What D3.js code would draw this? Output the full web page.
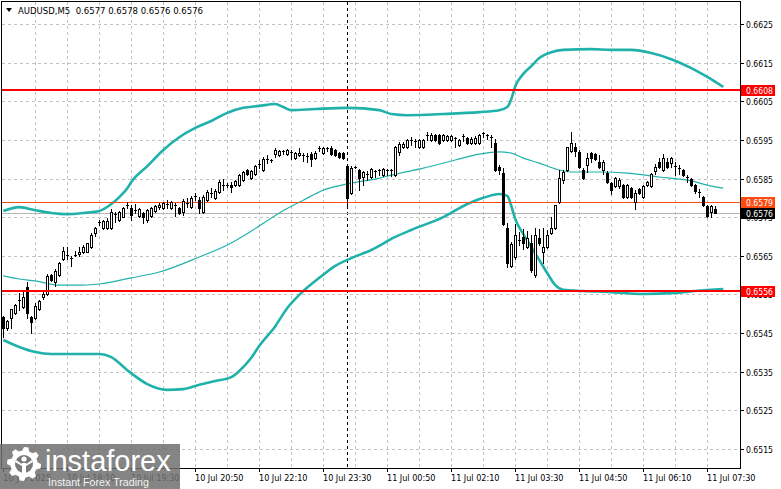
<!DOCTYPE html>
<html><head><meta charset="utf-8">
<script src="https://cdn.jsdelivr.net/npm/d3@7"></script>
<style>
html,body{margin:0;padding:0;background:#fff;overflow:hidden}
svg{display:block}
text{font-family:"DejaVu Sans",Verdana,sans-serif}
</style></head><body>
<svg id="chart" width="781" height="489"></svg>
<script>
// ---------- data ----------
const symbolTitle = "AUDUSD,M5";
const lastQuote = ["0.6577", "0.6578", "0.6576", "0.6576"];
const timeLabels = ["10 Jul 2025","10 Jul 18:10","10 Jul 19:30","10 Jul 20:50","10 Jul 22:10","10 Jul 23:30",
                    "11 Jul 00:50","11 Jul 02:10","11 Jul 03:30","11 Jul 04:50","11 Jul 06:10","11 Jul 07:30"];
const timeLabelBars = [0,16,32,48,64,80,96,112,128,144,160,176];
const gridBars = [8,16,24,32,40,48,56,64,72,80,88,96,104,112,120,128,136,144,152,160,168,176];
const priceTicks = [0.6515,0.6525,0.6535,0.6545,0.6555,0.6565,0.6575,0.6585,0.6595,0.6605,0.6615,0.6625];
const separatorBar = 86;           // 11 Jul 00:00
const redLevels = [0.6608, 0.6556];
const orangeLevel = 0.6579;
const bidPrice = 0.6576;

const opens = [
0.65492,0.65463,0.65489,0.65502,0.65533,0.65517,0.65569,0.65492,0.65489,0.65512,
0.65543,0.65551,0.65600,0.65582,0.65600,0.65642,0.65652,0.65644,0.65652,0.65655,
0.65660,0.65660,0.65673,0.65709,0.65735,0.65722,0.65722,0.65722,0.65756,0.65743,
0.65750,0.65779,0.65774,0.65766,0.65753,0.65761,0.65743,0.65753,0.65766,0.65776,
0.65774,0.65781,0.65774,0.65781,0.65774,0.65763,0.65784,0.65776,0.65802,0.65794,
0.65763,0.65794,0.65812,0.65800,0.65815,0.65831,0.65831,0.65833,0.65833,0.65833,
0.65846,0.65872,0.65851,0.65862,0.65885,0.65872,0.65898,0.65898,0.65913,0.65911,
0.65919,0.65913,0.65919,0.65903,0.65911,0.65911,0.65908,0.65913,0.65903,0.65926,
0.65916,0.65926,0.65929,0.65924,0.65916,0.65916,0.65882,0.65812,0.65880,0.65872,
0.65854,0.65862,0.65854,0.65867,0.65872,0.65859,0.65872,0.65869,0.65859,0.65919,
0.65932,0.65932,0.65947,0.65947,0.65932,0.65932,0.65960,0.65950,0.65963,0.65963,
0.65950,0.65950,0.65950,0.65955,0.65937,0.65957,0.65955,0.65942,0.65942,0.65942,
0.65968,0.65963,0.65957,0.65942,0.65880,0.65864,0.65722,0.65624,0.65647,0.65691,
0.65699,0.65673,0.65683,0.65600,0.65696,0.65660,0.65673,0.65709,0.65722,0.65789,
0.65846,0.65872,0.65921,0.65932,0.65919,0.65872,0.65885,0.65916,0.65913,0.65893,
0.65872,0.65864,0.65838,0.65831,0.65831,0.65833,0.65802,0.65825,0.65789,0.65823,
0.65802,0.65833,0.65831,0.65869,0.65893,0.65872,0.65893,0.65890,0.65882,0.65877,
0.65872,0.65854,0.65849,0.65833,0.65815,0.65802,0.65779,0.65763,0.65770];
const highs = [
0.65494,0.65484,0.65512,0.65525,0.65554,0.65559,0.65582,0.65494,0.65528,0.65536,
0.65559,0.65603,0.65603,0.65616,0.65634,0.65673,0.65673,0.65649,0.65662,0.65673,
0.65678,0.65683,0.65709,0.65724,0.65743,0.65743,0.65748,0.65771,0.65763,0.65766,
0.65776,0.65789,0.65781,0.65784,0.65774,0.65763,0.65771,0.65776,0.65781,0.65787,
0.65789,0.65794,0.65792,0.65787,0.65776,0.65797,0.65800,0.65805,0.65812,0.65802,
0.65807,0.65820,0.65825,0.65823,0.65846,0.65849,0.65838,0.65841,0.65846,0.65862,
0.65869,0.65875,0.65872,0.65885,0.65898,0.65906,0.65911,0.65900,0.65929,0.65924,
0.65924,0.65926,0.65924,0.65919,0.65929,0.65916,0.65916,0.65919,0.65921,0.65934,
0.65932,0.65932,0.65934,0.65926,0.65919,0.65919,0.65888,0.65882,0.65882,0.65875,
0.65869,0.65869,0.65877,0.65872,0.65875,0.65877,0.65875,0.65875,0.65934,0.65945,
0.65945,0.65952,0.65957,0.65952,0.65952,0.65952,0.65970,0.65968,0.65965,0.65965,
0.65965,0.65963,0.65963,0.65957,0.65952,0.65965,0.65957,0.65957,0.65960,0.65965,
0.65970,0.65965,0.65963,0.65952,0.65885,0.65877,0.65735,0.65686,0.65732,0.65712,
0.65719,0.65714,0.65704,0.65722,0.65719,0.65722,0.65717,0.65750,0.65781,0.65872,
0.65872,0.65932,0.65970,0.65942,0.65924,0.65877,0.65916,0.65919,0.65916,0.65911,
0.65898,0.65869,0.65841,0.65854,0.65851,0.65836,0.65836,0.65828,0.65820,0.65825,
0.65833,0.65844,0.65864,0.65888,0.65903,0.65913,0.65903,0.65906,0.65893,0.65885,
0.65875,0.65859,0.65851,0.65836,0.65823,0.65805,0.65781,0.65781,0.65780];
const lows = [
0.65440,0.65458,0.65463,0.65499,0.65510,0.65515,0.65489,0.65450,0.65486,0.65510,
0.65538,0.65549,0.65585,0.65572,0.65598,0.65639,0.65642,0.65624,0.65649,0.65649,
0.65657,0.65660,0.65670,0.65701,0.65730,0.65719,0.65719,0.65719,0.65737,0.65740,
0.65750,0.65774,0.65743,0.65761,0.65750,0.65735,0.65737,0.65750,0.65763,0.65771,
0.65771,0.65774,0.65771,0.65753,0.65758,0.65756,0.65776,0.65774,0.65794,0.65761,
0.65761,0.65792,0.65802,0.65797,0.65812,0.65820,0.65828,0.65815,0.65831,0.65831,
0.65844,0.65859,0.65849,0.65859,0.65877,0.65869,0.65890,0.65893,0.65906,0.65908,
0.65913,0.65911,0.65900,0.65900,0.65908,0.65895,0.65893,0.65882,0.65900,0.65921,
0.65913,0.65921,0.65911,0.65908,0.65903,0.65900,0.65774,0.65810,0.65877,0.65820,
0.65833,0.65846,0.65851,0.65854,0.65859,0.65856,0.65859,0.65856,0.65856,0.65911,
0.65929,0.65929,0.65937,0.65932,0.65929,0.65929,0.65950,0.65947,0.65947,0.65939,
0.65947,0.65947,0.65947,0.65932,0.65934,0.65947,0.65939,0.65939,0.65939,0.65939,
0.65957,0.65952,0.65932,0.65869,0.65862,0.65730,0.65621,0.65621,0.65642,0.65678,
0.65668,0.65670,0.65608,0.65595,0.65678,0.65631,0.65670,0.65706,0.65719,0.65787,
0.65838,0.65869,0.65919,0.65908,0.65877,0.65849,0.65867,0.65893,0.65898,0.65877,
0.65862,0.65838,0.65810,0.65828,0.65825,0.65800,0.65800,0.65800,0.65771,0.65810,
0.65800,0.65831,0.65828,0.65862,0.65877,0.65869,0.65877,0.65880,0.65859,0.65862,
0.65856,0.65841,0.65831,0.65812,0.65802,0.65779,0.65750,0.65750,0.65760];
const closes = [
0.65463,0.65481,0.65512,0.65523,0.65536,0.65543,0.65502,0.65479,0.65520,0.65533,
0.65551,0.65598,0.65587,0.65611,0.65631,0.65662,0.65649,0.65642,0.65651,0.65660,
0.65673,0.65683,0.65704,0.65722,0.65737,0.65740,0.65740,0.65763,0.65758,0.65763,
0.65774,0.65781,0.65756,0.65768,0.65771,0.65750,0.65768,0.65774,0.65779,0.65781,
0.65787,0.65784,0.65789,0.65779,0.65761,0.65792,0.65787,0.65800,0.65805,0.65774,
0.65802,0.65815,0.65810,0.65818,0.65841,0.65833,0.65833,0.65828,0.65844,0.65859,
0.65867,0.65862,0.65869,0.65882,0.65888,0.65900,0.65900,0.65897,0.65924,0.65921,
0.65921,0.65924,0.65916,0.65916,0.65916,0.65908,0.65906,0.65900,0.65916,0.65929,
0.65929,0.65929,0.65913,0.65911,0.65906,0.65903,0.65800,0.65877,0.65879,0.65851,
0.65867,0.65859,0.65875,0.65869,0.65869,0.65875,0.65871,0.65872,0.65932,0.65939,
0.65939,0.65950,0.65950,0.65946,0.65950,0.65950,0.65963,0.65963,0.65950,0.65942,
0.65963,0.65960,0.65960,0.65952,0.65950,0.65960,0.65942,0.65952,0.65955,0.65963,
0.65967,0.65962,0.65956,0.65872,0.65872,0.65732,0.65631,0.65681,0.65704,0.65688,
0.65683,0.65696,0.65613,0.65704,0.65683,0.65673,0.65704,0.65722,0.65781,0.65851,
0.65867,0.65932,0.65942,0.65921,0.65880,0.65851,0.65903,0.65903,0.65900,0.65880,
0.65893,0.65841,0.65820,0.65851,0.65846,0.65802,0.65833,0.65802,0.65812,0.65812,
0.65831,0.65841,0.65862,0.65880,0.65880,0.65903,0.65880,0.65903,0.65881,0.65875,
0.65859,0.65851,0.65833,0.65818,0.65812,0.65781,0.65753,0.65779,0.65760];

// indicator lines: [bar index, price]
const upperBand = [[0,0.65766],[4,0.65776],[8,0.65768],[12,0.65761],[16,0.65758],[20,0.65761],[24,0.65766],
 [27,0.65784],[29,0.65802],[31,0.65825],[32,0.65841],[36,0.65882],[40,0.65924],[44,0.65957],[48,0.65981],
 [52,0.65999],[56,0.66020],[60,0.66033],[64,0.66038],[68,0.66043],[70,0.66035],[72,0.66027],[78,0.66030],
 [86,0.66033],[94,0.66027],[97,0.66017],[101,0.66014],[110,0.66017],[119,0.66022],[124,0.66027],[126,0.66035],
 [127,0.66056],[128,0.66089],[130,0.66121],[132,0.66141],[134,0.66162],[137,0.66177],[140,0.66183],[147,0.66185],
 [152,0.66183],[157,0.66183],[162,0.66175],[167,0.66159],[172,0.66136],[176,0.66113],[180,0.66087]];
const middleLine = [[0,0.65598],[4,0.65590],[8,0.65585],[14,0.65574],[20,0.65574],[24,0.65577],[32,0.65593],
 [39,0.65608],[49,0.65647],[56,0.65678],[62,0.65714],[69,0.65761],[75,0.65794],[80,0.65820],[86,0.65836],
 [94,0.65851],[97,0.65859],[105,0.65877],[113,0.65898],[119,0.65913],[124,0.65919],[127,0.65916],[130,0.65903],
 [134,0.65890],[138,0.65875],[142,0.65867],[149,0.65867],[156,0.65864],[164,0.65854],[172,0.65844],[176,0.65833],[180,0.65825]];
const lowerBand = [[0,0.65432],[4,0.65414],[8,0.65401],[12,0.65396],[24,0.65396],[27,0.65388],[31,0.65354],
 [36,0.65318],[41,0.65303],[45,0.65305],[49,0.65316],[53,0.65326],[57,0.65336],[59,0.65352],[62,0.65386],
 [64,0.65417],[68,0.65468],[71,0.65515],[75,0.65559],[79,0.65593],[83,0.65624],[87,0.65644],[92,0.65665],
 [98,0.65699],[102,0.65717],[110,0.65750],[116,0.65784],[120,0.65800],[124,0.65810],[126,0.65805],[127,0.65779],
 [128,0.65745],[130,0.65706],[132,0.65673],[134,0.65639],[136,0.65605],[138,0.65574],[140,0.65562],[145,0.65559],
 [152,0.65556],[160,0.65551],[168,0.65554],[173,0.65559],[180,0.65564]];

// ---------- drawing ----------
const plotL = 2, plotR = 740, plotT = 2, plotB = 468;
const svg = d3.select("#chart");
const x = d3.scaleLinear().domain([0, 180]).range([3.3, 723.3]);
const y = d3.scaleLinear().domain([0.6515, 0.6625]).range([449, 24]);
const teal = "#20b2aa";
const gridCol = "#c3c3c3";
const fmt = d3.format(".4f");

const plot = svg.append("g");
plot.append("defs").append("clipPath").attr("id","clip")
  .append("rect").attr("x",plotL).attr("y",plotT).attr("width",plotR-plotL).attr("height",plotB-plotT);

// grid
const grid = plot.append("g").attr("stroke", gridCol).attr("stroke-dasharray","3,3").attr("shape-rendering","crispEdges");
grid.selectAll("line.h").data(priceTicks).join("line")
  .attr("x1",plotL).attr("x2",plotR)
  .attr("y1",d=>Math.round(y(d))+0.5).attr("y2",d=>Math.round(y(d))+0.5);
grid.selectAll("line.v").data(gridBars).join("line")
  .attr("y1",plotT).attr("y2",plotB)
  .attr("x1",d=>Math.round(x(d))+0.5).attr("x2",d=>Math.round(x(d))+0.5);

// day separator
plot.append("line").attr("x1",Math.round(x(separatorBar))+0.5).attr("x2",Math.round(x(separatorBar))+0.5)
  .attr("y1",plotT).attr("y2",plotB).attr("stroke","#000").attr("stroke-dasharray","3,3");

// bid line
plot.append("line").attr("x1",plotL).attr("x2",plotR)
  .attr("y1",Math.round(y(bidPrice))+0.5).attr("y2",Math.round(y(bidPrice))+0.5)
  .attr("stroke","#b4b4b4").attr("stroke-width",1);

// bands
const lineGen = d3.line().x(d=>x(d[0])).y(d=>y(d[1])).curve(d3.curveMonotoneX);
const bandG = plot.append("g").attr("clip-path","url(#clip)").attr("fill","none").attr("stroke",teal);
bandG.append("path").datum(upperBand).attr("d",lineGen).attr("stroke-width",2.6);
bandG.append("path").datum(lowerBand).attr("d",lineGen).attr("stroke-width",2.6);
bandG.append("path").datum(middleLine).attr("d",lineGen).attr("stroke-width",1.2);

// orange level
plot.append("line").attr("x1",plotL).attr("x2",plotR)
  .attr("y1",Math.round(y(orangeLevel))+0.5).attr("y2",Math.round(y(orangeLevel))+0.5)
  .attr("stroke","#ff4a12").attr("stroke-width",1);

// candles
const candles = plot.append("g").attr("shape-rendering","crispEdges");
d3.range(opens.length).forEach(i=>{
  const cx = Math.round(x(i));
  const yh = Math.round(y(highs[i])), yl = Math.round(y(lows[i]));
  const yo = Math.round(y(opens[i])), yc = Math.round(y(closes[i]));
  const top = Math.min(yo,yc), bot = Math.max(yo,yc);
  candles.append("rect").attr("x",cx).attr("y",yh).attr("width",1).attr("height",Math.max(1,yl-yh+1)).attr("fill","#000");
  if (bot - top <= 1) {
    candles.append("rect").attr("x",cx-1).attr("y",top).attr("width",3).attr("height",1).attr("fill","#000");
  } else if (closes[i] >= opens[i]) {
    candles.append("rect").attr("x",cx-0.5).attr("y",top+0.5).attr("width",2).attr("height",bot-top)
      .attr("fill","#fff").attr("stroke","#000").attr("stroke-width",1);
  } else {
    candles.append("rect").attr("x",cx-1).attr("y",top).attr("width",3).attr("height",bot-top+1).attr("fill","#000");
  }
});

// red levels
plot.selectAll("rect.lvl").data(redLevels).join("rect")
  .attr("x",plotL).attr("width",plotR-plotL)
  .attr("y",d=>Math.round(y(d))-1).attr("height",2).attr("fill","#ff0000");

// frame
svg.append("rect").attr("x",1.5).attr("y",1.5).attr("width",plotR-1.5).attr("height",plotB-1.5)
  .attr("fill","none").attr("stroke","#000").attr("stroke-width",1).attr("shape-rendering","crispEdges");

// right axis
const ax = svg.append("g").attr("font-size","9.5px").attr("fill","#000");
priceTicks.forEach(p=>{
  const yy = Math.round(y(p));
  ax.append("rect").attr("x",plotR).attr("y",yy).attr("width",4).attr("height",1).attr("fill","#000");
  ax.append("text").attr("x",746).attr("y",yy+4).attr("textLength",27).attr("lengthAdjust","spacingAndGlyphs").text(fmt(p));
});
// bottom axis
timeLabels.forEach((t,k)=>{
  const xx = Math.round(x(timeLabelBars[k]));
  ax.append("rect").attr("x",xx).attr("y",plotB).attr("width",1).attr("height",4).attr("fill","#000");
  ax.append("text").attr("x",xx).attr("y",481).attr("textLength",48.5).attr("lengthAdjust","spacingAndGlyphs").text(t);
});

// price boxes
const boxes = [[redLevels[0],"#ff0000"],[redLevels[1],"#ff0000"],[orangeLevel,"#ff4a12"],[bidPrice,"#000000"]];
boxes.forEach(([p,c])=>{
  const yy = Math.round(y(p));
  ax.append("rect").attr("x",741).attr("y",yy-5).attr("width",34).attr("height",11).attr("fill",c);
  ax.append("text").attr("x",746).attr("y",yy+4).attr("fill","#fff")
    .attr("textLength",27).attr("lengthAdjust","spacingAndGlyphs").text(fmt(p));
});

// header
svg.append("path").attr("d","M6,8L12,8L9,12Z").attr("fill","#000");
svg.append("text").attr("x",18).attr("y",14).attr("font-size","9.5px")
  .attr("fill","#000").attr("xml:space","preserve")
  .attr("textLength",185).attr("lengthAdjust","spacingAndGlyphs")
  .text(symbolTitle + "  " + lastQuote.join(" "));

// watermark
const wm = svg.append("g");
wm.append("rect").attr("x",0).attr("y",444).attr("width",180).attr("height",45).attr("fill","#707070").attr("opacity",0.85);
const gx = 24, gy = 464;
const gearPts = d3.range(48).map(k=>{
  const a = k/48*2*Math.PI;
  const r = (Math.floor(k/3)%2===0) ? 17 : 13.5;
  return [gx + r*Math.cos(a), gy + r*Math.sin(a)];
});
wm.append("path").attr("d", d3.line()(gearPts)+"Z").attr("fill","#fff");
wm.append("circle").attr("cx",gx).attr("cy",gy).attr("r",9).attr("fill","#7a7a7a");
wm.append("circle").attr("cx",gx).attr("cy",gy-5).attr("r",2.6).attr("fill","#fff");
wm.append("rect").attr("x",gx-2).attr("y",gy-1).attr("width",4).attr("height",14).attr("fill","#fff");
wm.append("path").attr("d",`M${gx-8},${gy-4}L${gx-2},${gy}L${gx-2},${gy+2}L${gx-9},${gy-2}Z M${gx+8},${gy-4}L${gx+2},${gy}L${gx+2},${gy+2}L${gx+9},${gy-2}Z`).attr("fill","#fff");
wm.append("text").attr("x",45).attr("y",471).attr("font-size","29px")
  .style("font-family","'Liberation Sans',Arial,sans-serif").attr("fill","#fff").text("instaforex");
wm.append("text").attr("x",48).attr("y",486).attr("font-size","11px")
  .style("font-family","'Liberation Sans',Arial,sans-serif").attr("fill","#fff").attr("opacity",0.9)
  .attr("textLength",101).attr("lengthAdjust","spacingAndGlyphs").text("Instant Forex Trading");
</script>
</body></html>
